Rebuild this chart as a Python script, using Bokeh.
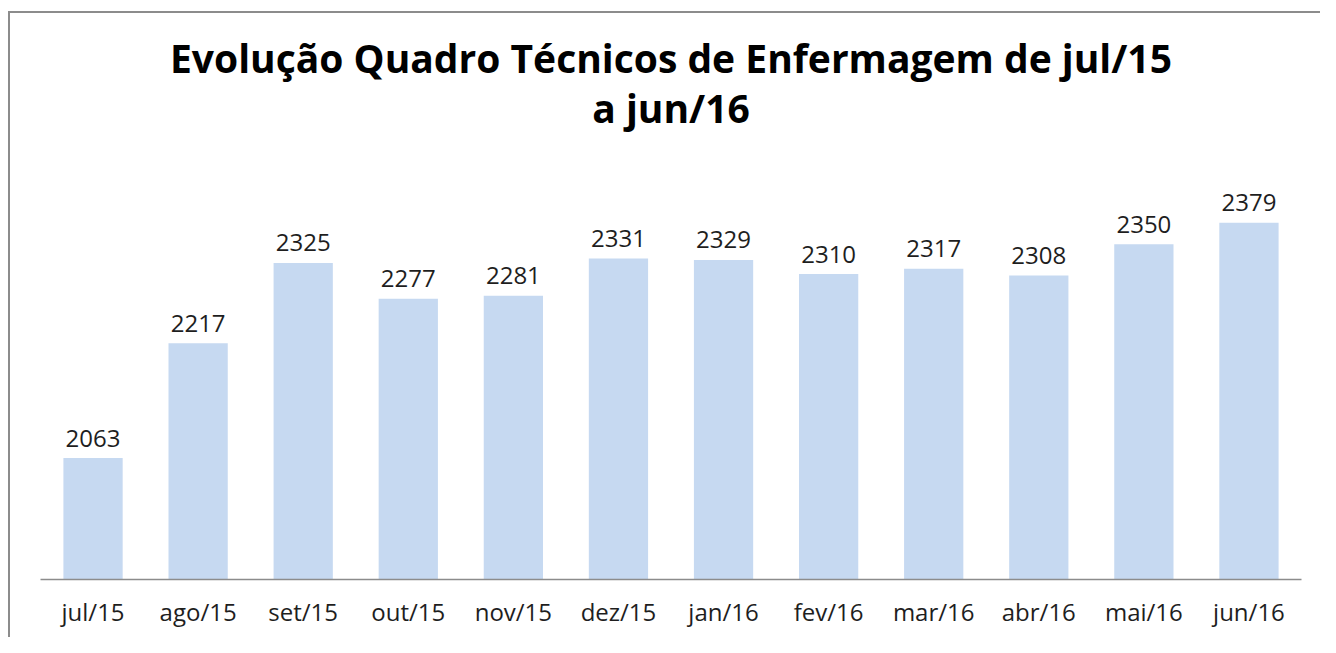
from bokeh.plotting import figure
from bokeh.models import ColumnDataSource, Range1d, FactorRange, Title
from bokeh.core.properties import value
from bokeh.embed import file_html
from bokeh.resources import INLINE

months = ["jul/15", "ago/15", "set/15", "out/15", "nov/15", "dez/15",
          "jan/16", "fev/16", "mar/16", "abr/16", "mai/16", "jun/16"]
counts = [2063, 2217, 2325, 2277, 2281, 2331, 2329, 2310, 2317, 2308, 2350, 2379]
title_line1 = "Evolução Quadro Técnicos de Enfermagem de jul/15"
title_line2 = "a jun/16"

FONT = "Open Sans"
BAR = "#C6D9F1"
AXIS = "#8C8C8C"
TXT = "#1E1E1E"

src = ColumnDataSource(dict(m=months, v=counts, t=[str(c) for c in counts]))

p = figure(x_range=FactorRange(factors=months, range_padding=0),
           y_range=Range1d(1900, 2500),
           width=1320, height=637, output_backend="svg",
           toolbar_location=None, title=None,
           min_border_left=40, min_border_right=19, min_border_top=132,
           min_border_bottom=58)
p.styles = {"box-shadow": "inset 8px 11px 0 0 #ffffff, inset 10px 13px 0 0 #8C8C8C"}
p.border_fill_alpha = 0

p.vbar(x="m", top="v", bottom=1900, width=0.564, source=src,
       fill_color=BAR, line_color=None)
p.text(x="m", y="v", text="t", source=src, text_align="center",
       text_baseline="alphabetic", y_offset=-20,
       text_font=value(FONT), text_font_size="24px", text_color=TXT)

p.add_layout(Title(text=title_line2, align="center", text_font=FONT,
                   text_font_size="39px", text_font_style="bold",
                   text_color="black", standoff=-3), "above")
p.add_layout(Title(text=title_line1, align="center", text_font=FONT,
                   text_font_size="39px", text_font_style="bold",
                   text_color="black", standoff=-6), "above")

p.yaxis.visible = False
p.xgrid.visible = False
p.ygrid.visible = False
p.outline_line_color = None
p.xaxis.axis_line_color = AXIS
p.xaxis.axis_line_width = 1.5
p.xaxis.major_tick_line_color = None
p.xaxis.minor_tick_line_color = None
p.xaxis.major_label_text_font = FONT
p.xaxis.major_label_text_font_size = "24px"
p.xaxis.major_label_text_color = TXT
p.xaxis.major_label_standoff = 9

open("out.html", "w").write(file_html(p, INLINE))
